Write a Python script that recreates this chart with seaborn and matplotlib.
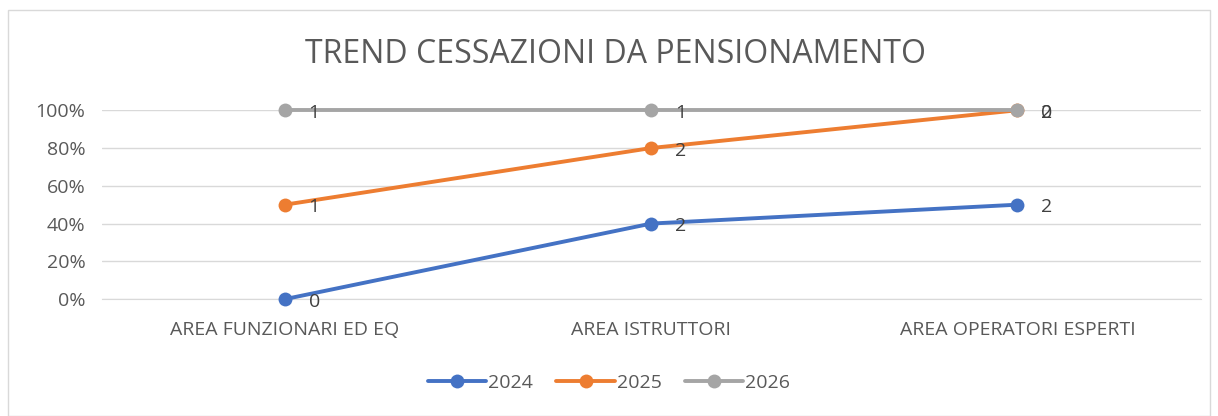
import pandas as pd
import matplotlib.pyplot as plt
import seaborn as sns
from matplotlib.patches import Rectangle
from matplotlib.ticker import PercentFormatter

# dati
aree = ['AREA FUNZIONARI ED EQ', 'AREA ISTRUTTORI', 'AREA OPERATORI ESPERTI']
anni = ['2024', '2025', '2026']
v2024 = [0, 2, 2]
v2025 = [1, 2, 2]
v2026 = [1, 1, 0]
colori = ['#4472C4', '#ED7D31', '#A5A5A5']

# tabella larga -> percentuale cumulata (linee in pila 100%)
wide = pd.DataFrame({'2024': v2024, '2025': v2025, '2026': v2026}, index=aree)
cum = wide.cumsum(axis=1).div(wide.sum(axis=1), axis=0)

df = cum.reset_index().melt(id_vars='index', var_name='anno', value_name='pct')
df = df.rename(columns={'index': 'area'})
df['valore'] = wide.reset_index().melt(id_vars='index')['value'].values

sns.set_style('white')
plt.rcParams['font.family'] = ['Open Sans', 'DejaVu Sans']

fig = plt.figure(figsize=(12.18, 4.16), dpi=100)
ax = fig.add_axes([0.0837, 0.281, 0.902, 0.454])

sns.lineplot(data=df, x='area', y='pct', hue='anno', hue_order=anni,
             palette=colori, marker='o', markersize=10, linewidth=2.8,
             markeredgewidth=0, sort=False, ax=ax)
for ln in ax.lines:
    ln.set_clip_on(False)

# etichette dei dati
for _, r in df.iterrows():
    ax.annotate(str(r['valore']), (aree.index(r['area']), r['pct']),
                xytext=(17, -2), textcoords='offset points',
                va='center', ha='left', fontsize=14, color='#404040')

ax.set_xlim(-0.5, 2.5)
ax.set_ylim(0, 1)
ax.set_yticks([0, 0.2, 0.4, 0.6, 0.8, 1.0])
ax.yaxis.set_major_formatter(PercentFormatter(1.0, decimals=0))
ax.grid(axis='y', color='#D9D9D9', linewidth=1)
ax.set_axisbelow(True)
for s in ['top', 'right', 'left']:
    ax.spines[s].set_visible(False)
ax.spines['bottom'].set_color('#D9D9D9')
ax.spines['bottom'].set_zorder(0)
ax.tick_params(axis='both', length=0, labelsize=14, colors='#595959', pad=12)
ax.tick_params(axis='x', pad=16)
ax.set_xlabel('')
ax.set_ylabel('')

fig.text(0.505, 0.87, 'TREND CESSAZIONI DA PENSIONAMENTO', ha='center', va='center',
         fontsize=23, color='#595959')

h, l = ax.get_legend_handles_labels()
ax.legend(h, l, loc='center', bbox_to_anchor=(0.5, 0.08), bbox_transform=fig.transFigure,
          ncol=3, frameon=False, fontsize=14, labelcolor='#595959',
          handlelength=3.0, handletextpad=0.1, columnspacing=1.2)

fig.patches.append(Rectangle((8 / 1218, 0), 1202 / 1218, 406 / 416, transform=fig.transFigure,
                             fill=False, edgecolor='#D9D9D9', linewidth=1))

fig.savefig('out.png', dpi=100)
